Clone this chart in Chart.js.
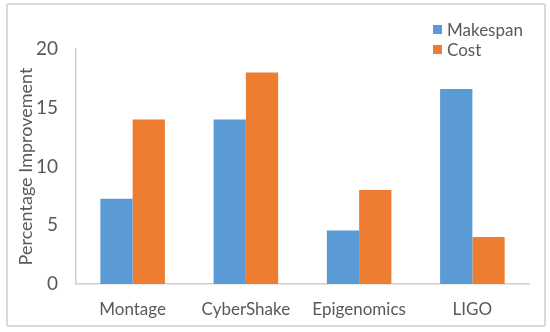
<!DOCTYPE html>
<html>
<head>
<meta charset="utf-8">
<script src="https://cdn.jsdelivr.net/npm/chart.js@4.4.0/dist/chart.umd.min.js"></script>
<style>
  body { margin: 0; background: #fff; }
  #wrap { position: relative; width: 550px; height: 332px; }
  #frame { position: absolute; left: 6px; top: 3px; width: 536px; height: 320px; border: 2px solid #d9d9d9; border-radius: 2px; pointer-events: none; }
  #legend { position: absolute; left: 433px; top: 20px; font-family: Lato, sans-serif; font-size: 17px; color: #595959; }
  #legend div { display: flex; align-items: center; height: 19.5px; }
  #legend span.box { display: inline-block; width: 9px; height: 9px; margin-right: 5px; }
</style>
</head>
<body>
<div id="wrap">
  <canvas id="improvementChart" width="550" height="332"></canvas>
  <div id="frame"></div>
  <div id="legend"></div>
</div>
<script>
const categories = ['Montage', 'CyberShake', 'Epigenomics', 'LIGO'];
const makespan = [7.25, 14, 4.55, 16.6];
const cost = [14, 18, 8, 4];
const yTicks = [0, 5, 10, 15, 20];

const textColor = '#595959';
const axisColor = '#d0d0d0';

// html legend built from the datasets
const htmlLegend = {
    id: 'htmlLegend',
    afterUpdate(chart) {
        const box = document.getElementById('legend');
        box.innerHTML = '';
        chart.data.datasets.forEach(ds => {
            const row = document.createElement('div');
            row.innerHTML = `<span class="box" style="background:${ds.backgroundColor}"></span><span>${ds.label}</span>`;
            box.appendChild(row);
        });
    }
};

const ctx = document.getElementById('improvementChart').getContext('2d');
new Chart(ctx, {
    type: 'bar',
    data: {
        labels: categories,
        datasets: [
            { label: 'Makespan', data: makespan, backgroundColor: '#5b9bd5' },
            { label: 'Cost', data: cost, backgroundColor: '#ed7d31' }
        ]
    },
    options: {
        responsive: false,
        animation: false,
        layout: { padding: { left: 0, right: 21, top: 49, bottom: 0 } },
        datasets: { bar: { categoryPercentage: 0.57, barPercentage: 1 } },
        scales: {
            x: {
                grid: { display: false, drawTicks: false },
                border: { color: axisColor, width: 1.5 },
                ticks: { color: textColor, padding: 15, font: { family: 'Lato', size: 17 } },
                afterFit(scale) { scale.height = 48; }
            },
            y: {
                min: 0,
                max: 20,
                afterBuildTicks(scale) { scale.ticks = yTicks.map(v => ({ value: v })); },
                grid: { display: false, drawTicks: false },
                border: { color: axisColor, width: 1.5 },
                ticks: { color: textColor, padding: 18, font: { family: 'Lato', size: 19 } },
                title: {
                    display: true,
                    text: 'Percentage Improvement',
                    color: textColor,
                    font: { family: 'Lato', size: 18 },
                    padding: { top: 15, bottom: 0 }
                },
                afterFit(scale) { scale.width = 76; }
            }
        },
        plugins: {
            legend: { display: false },
            tooltip: { enabled: false }
        }
    },
    plugins: [htmlLegend]
});
</script>
</body>
</html>
